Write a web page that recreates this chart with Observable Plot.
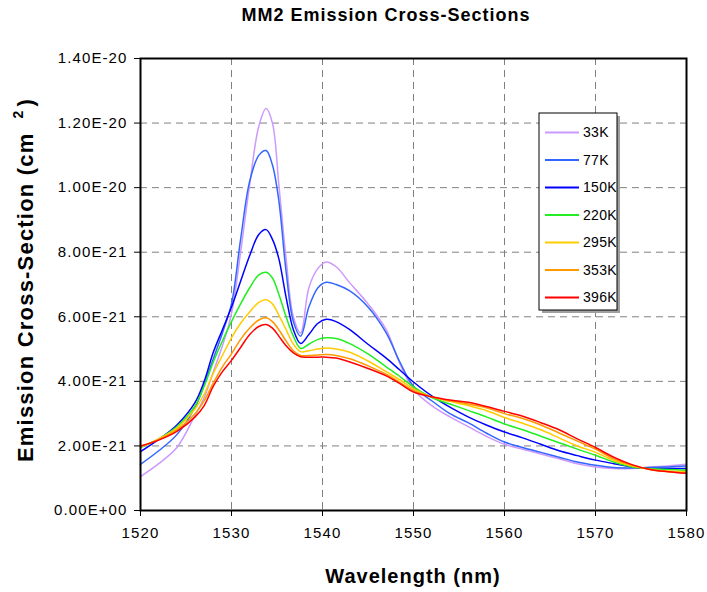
<!DOCTYPE html>
<html><head><meta charset="utf-8">
<script src="https://cdn.jsdelivr.net/npm/d3@7"></script>
<script src="https://cdn.jsdelivr.net/npm/@observablehq/plot@0.6"></script>
<style>body{margin:0;background:#fff} #chart{position:relative;width:707px;height:592px}</style>
</head><body><div id="chart"></div>
<script>
// Wavelength samples (nm)
const wavelengths = [1520, 1522, 1524, 1526, 1527, 1528, 1529, 1530, 1531, 1532, 1533,
  1533.8, 1534.5, 1535.2, 1536, 1536.8, 1537.6, 1538.5, 1539.5, 1540.4, 1541.5,
  1543, 1545, 1547, 1548.5, 1550,
  1552, 1554, 1556, 1558, 1560, 1562, 1564, 1566, 1568, 1570, 1572, 1574, 1576, 1578, 1580];

// Emission cross-section values, in units of 1E-21 cm^2
const s33K  = [1.05, 1.45, 1.95, 2.95, 3.5, 4.3, 5.1, 6.1, 8.0, 10.1, 11.9,
  12.45, 12.0, 10.1, 7.8, 6.0, 5.5, 6.9, 7.5, 7.7, 7.55,
  7.05, 6.4, 5.6, 4.55, 3.75,
  3.25, 2.9, 2.6, 2.3, 2.05, 1.9, 1.75, 1.6, 1.45, 1.35, 1.3, 1.3, 1.35, 1.38, 1.43];
const s77K  = [1.43, 1.85, 2.35, 3.2, 3.9, 4.7, 5.5, 6.4, 8.4, 10.2, 11.0,
  11.15, 10.7, 9.6, 7.4, 5.85, 5.4, 6.3, 6.9, 7.07, 7.0,
  6.8, 6.3, 5.5, 4.6, 3.85,
  3.4, 3.0, 2.72, 2.4, 2.12, 1.95, 1.8, 1.65, 1.5, 1.4, 1.33, 1.32, 1.33, 1.35, 1.38];
const s150K = [1.82, 2.2, 2.65, 3.35, 4.0, 4.9, 5.6, 6.3, 7.1, 7.9, 8.55,
  8.7, 8.4, 7.8, 6.6, 5.6, 5.17, 5.45, 5.8, 5.92, 5.85,
  5.6, 5.15, 4.72, 4.35, 3.98,
  3.55, 3.2, 2.9, 2.65, 2.43, 2.25, 2.05, 1.85, 1.7, 1.56, 1.45, 1.35, 1.3, 1.3, 1.3];
const s220K = [1.95, 2.22, 2.6, 3.25, 3.85, 4.6, 5.25, 5.85, 6.4, 6.9, 7.3,
  7.38, 7.2, 6.7, 6.0, 5.4, 5.02, 5.15, 5.3, 5.35, 5.33,
  5.17, 4.85, 4.45, 4.15, 3.83,
  3.5, 3.3, 3.1, 2.9, 2.68, 2.5, 2.3, 2.1, 1.9, 1.71, 1.5, 1.35, 1.3, 1.27, 1.25];
const s295K = [1.97, 2.22, 2.55, 3.15, 3.6, 4.25, 4.8, 5.35, 5.8, 6.15, 6.45,
  6.53, 6.4, 6.05, 5.6, 5.15, 4.92, 4.95, 5.0, 5.03, 5.0,
  4.9, 4.63, 4.3, 4.05, 3.77,
  3.52, 3.38, 3.25, 3.1, 2.88, 2.7, 2.5, 2.25, 2.0, 1.8, 1.55, 1.38, 1.28, 1.22, 1.2];
const s353K = [1.98, 2.2, 2.5, 3.0, 3.4, 3.95, 4.45, 4.85, 5.3, 5.65, 5.9,
  5.97, 5.85, 5.6, 5.25, 4.95, 4.8, 4.8, 4.82, 4.83, 4.8,
  4.7, 4.48, 4.22, 3.97, 3.72,
  3.52, 3.4, 3.3, 3.18, 3.0, 2.85, 2.65, 2.4, 2.15, 1.9, 1.6, 1.4, 1.27, 1.2, 1.17];
const s396K = [2.0, 2.18, 2.45, 2.9, 3.25, 3.85, 4.3, 4.65, 5.05, 5.45, 5.7,
  5.76, 5.65, 5.4, 5.1, 4.88, 4.76, 4.75, 4.75, 4.75, 4.72,
  4.6, 4.4, 4.17, 3.93, 3.67,
  3.52, 3.42, 3.35, 3.22, 3.07, 2.92, 2.72, 2.5, 2.22, 1.95, 1.65, 1.42, 1.27, 1.2, 1.15];

const seriesNames  = ["33K", "77K", "150K", "220K", "295K", "353K", "396K"];
const seriesValues = [s33K, s77K, s150K, s220K, s295K, s353K, s396K];
const seriesColors = ["#CC99FF", "#3366FF", "#0000FF", "#22EE22", "#FFCC00", "#FF9900", "#FF0000"];

const xTicks = [1520, 1530, 1540, 1550, 1560, 1570, 1580];
const xGrid = [1530, 1540, 1550, 1560, 1570];
const yTicks = [0, 2, 4, 6, 8, 10, 12, 14];
const yGrid = [2, 4, 6, 8, 10, 12];
const yTickLabels = ["0.00E+00", "2.00E-21", "4.00E-21", "6.00E-21", "8.00E-21", "1.00E-20", "1.20E-20", "1.40E-20"];

const rows = [];
seriesNames.forEach((name, k) => {
  wavelengths.forEach((w, i) => rows.push({series: name, wavelength: w, value: seriesValues[k][i]}));
});

const FONT = "'Liberation Sans', Arial, sans-serif";
const dash = {stroke: "#808080", strokeOpacity: 1, strokeWidth: 1, strokeDasharray: "7,5"};

const chart = Plot.plot({
  width: 707, height: 592,
  marginLeft: 140, marginRight: 21, marginTop: 58, marginBottom: 82,
  style: {fontFamily: FONT, fontSize: "15px", background: "#fff", color: "#000", overflow: "visible"},
  x: {domain: [1520, 1580]},
  y: {domain: [0, 14]},
  color: {domain: seriesNames, range: seriesColors},
  marks: [
    Plot.gridX(xGrid, dash),
    Plot.gridY(yGrid, dash),
    Plot.line(rows, {x: "wavelength", y: "value", z: "series", stroke: "series", strokeWidth: 1.5, curve: "catmull-rom"}),
    Plot.frame({stroke: "#000", strokeWidth: 2}),
    Plot.axisX(xTicks, {tickSize: 6, tickPadding: 11, tickFormat: d => String(d), label: null}),
    Plot.axisY(yTicks, {tickSize: 6, tickPadding: 7, tickFormat: d => yTickLabels[yTicks.indexOf(d)], label: null})
  ]
});
document.getElementById("chart").appendChild(chart);

const svg = d3.select(chart);
// tick labels are the only texts so far
svg.selectAll("text").attr("font-size", null).style("font-size", "15px").style("letter-spacing", "1.1px");

svg.append("text")
  .attr("x", 386).attr("y", 21).attr("text-anchor", "middle")
  .style("font-family", FONT).style("font-weight", "bold").style("font-size", "18px").style("letter-spacing", "1px")
  .text("MM2 Emission Cross-Sections");

svg.append("text")
  .attr("x", 413).attr("y", 583).attr("text-anchor", "middle")
  .style("font-family", FONT).style("font-weight", "bold").style("font-size", "20px").style("letter-spacing", "1px")
  .text("Wavelength (nm)");

const yl = svg.append("text")
  .attr("transform", "translate(33,280) rotate(-90)").attr("text-anchor", "middle")
  .style("font-family", FONT).style("font-weight", "bold").style("font-size", "22px").style("letter-spacing", "1.2px");
yl.append("tspan").text("Emission Cross-Section (cm");
yl.append("tspan").attr("dx", 14).attr("dy", -10).style("font-size", "14px").text("2");
yl.append("tspan").attr("dx", 3).attr("dy", 10).text(")");

// Legend
const lg = svg.append("g").attr("transform", "translate(539,113)");
lg.append("rect").attr("x", 3).attr("y", 3).attr("width", 78).attr("height", 197).attr("fill", "#a0a0a0");
lg.append("rect").attr("x", 0).attr("y", 0).attr("width", 78).attr("height", 197).attr("fill", "#fff").attr("stroke", "#000").attr("stroke-width", 1);
seriesNames.forEach((name, i) => {
  const y = 19.4 + i * 27.5;
  lg.append("line").attr("x1", 6).attr("x2", 40).attr("y1", y).attr("y2", y)
    .attr("stroke", seriesColors[i]).attr("stroke-width", 2);
  lg.append("text").attr("x", 44).attr("y", y + 5).attr("text-anchor", "start")
    .style("font-family", FONT).style("font-size", "14px").style("letter-spacing", "0.3px").text(name);
});
</script></body></html>
